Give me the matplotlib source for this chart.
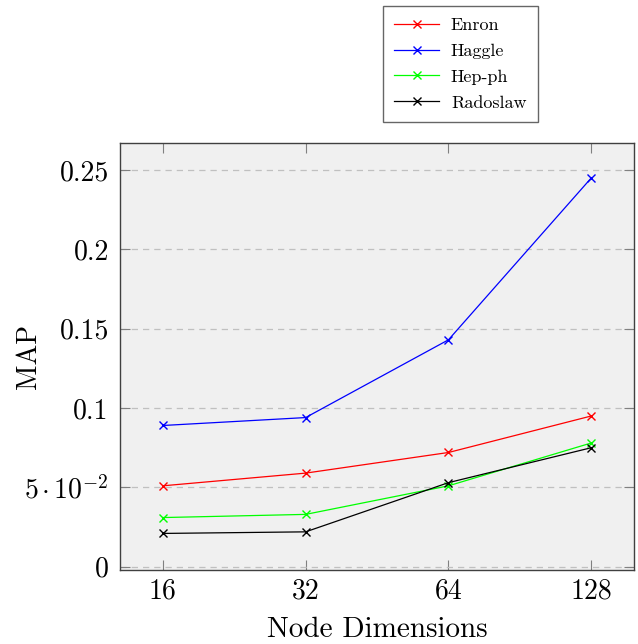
import matplotlib
matplotlib.use('Agg')
import matplotlib.pyplot as plt
from matplotlib.ticker import FixedLocator, FixedFormatter

plt.rcParams['font.family'] = 'serif'
plt.rcParams['font.serif'] = ['cmr10', 'DejaVu Serif']
plt.rcParams['mathtext.fontset'] = 'cm'
plt.rcParams['axes.unicode_minus'] = False

# MAP per node dimension
dims = [16, 32, 64, 128]
enron = [0.051, 0.059, 0.072, 0.095]
haggle = [0.089, 0.094, 0.143, 0.245]
hepph = [0.031, 0.033, 0.051, 0.078]
radoslaw = [0.021, 0.022, 0.053, 0.075]

series = [('Enron', enron, 'red'), ('Haggle', haggle, 'blue'),
          ('Hep-ph', hepph, 'lime'), ('Radoslaw', radoslaw, 'black')]

yticks = [0, 0.05, 0.1, 0.15, 0.2, 0.25]
ylabels = ['0', r'$5\,{\cdot}\,10^{-2}$', '0.1', '0.15', '0.2', '0.25']

fig = plt.figure(figsize=(6.38, 6.44), dpi=100)
ax = fig.add_axes([0.188, 0.115, 0.806, 0.663])
ax.set_facecolor('#f0f0f0')

handles = []
for name, vals, col in series:
    h, = ax.plot(dims, vals, color=col, marker='x', markersize=6, linewidth=0.9, label=name)
    handles.append(h)

ax.set_xscale('log', base=2)
ax.set_xlim(2 ** 3.7, 2 ** 7.3)
ax.set_ylim(-0.002, 0.267)
ax.xaxis.set_major_locator(FixedLocator(dims))
ax.xaxis.set_major_formatter(FixedFormatter([str(d) for d in dims]))
ax.xaxis.set_minor_locator(FixedLocator([]))
ax.yaxis.set_major_locator(FixedLocator(yticks))
ax.yaxis.set_major_formatter(FixedFormatter(ylabels))

ax.grid(axis='y', color='#c0c0c0', linestyle=(0, (5, 4)), linewidth=0.9)
ax.tick_params(direction='in', top=True, right=True, length=7.5, color='#808080',
               labelsize=20, pad=8)
ax.tick_params(axis='x', pad=6)
for s in ax.spines.values():
    s.set_color('#404040')
    s.set_linewidth(1.0)

ax.set_xlabel('Node Dimensions', fontsize=21, labelpad=9)
ax.set_ylabel('MAP', fontsize=20)
ax.yaxis.set_label_coords(-0.152, 0.5)

leg = fig.legend(handles=handles, loc='upper left', bbox_to_anchor=(0.600, 0.990),
                 fontsize=13, frameon=True, fancybox=False, edgecolor='#404040',
                 handlelength=2.5, labelspacing=0.56, borderpad=0.62, handletextpad=0.65,
                 borderaxespad=0)
leg.get_frame().set_linewidth(1.0)

fig.savefig('out.png', dpi=100)
